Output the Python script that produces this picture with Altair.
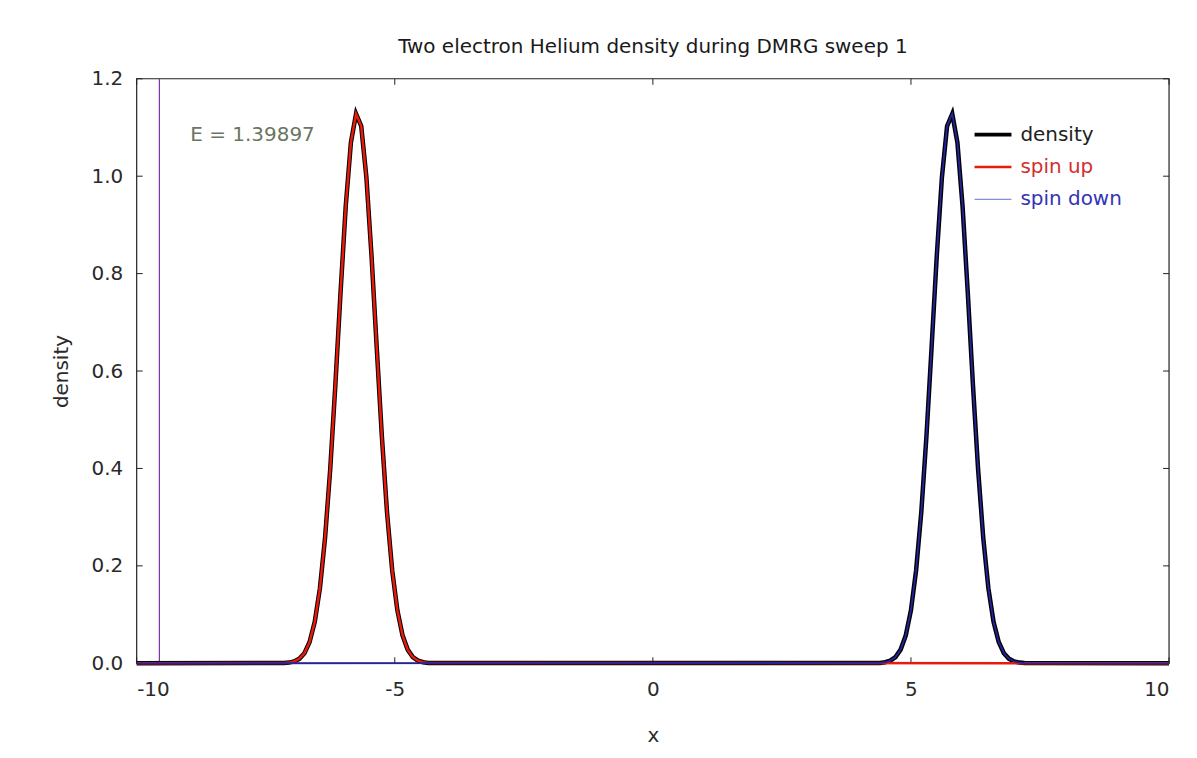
import altair as alt
import pandas as pd

# ---- data ----
x_left = [-7.15, -7.05, -6.95, -6.85, -6.75, -6.65, -6.55, -6.45, -6.35, -6.25, -6.15,
          -6.05, -5.95, -5.85, -5.75, -5.65, -5.55, -5.45, -5.35, -5.25, -5.15, -5.05,
          -4.95, -4.85, -4.75, -4.65, -4.55, -4.45, -4.35]
left_vals = [0.0005, 0.0014, 0.0037, 0.0091, 0.0207, 0.0436, 0.085, 0.154, 0.258, 0.399,
             0.573, 0.762, 0.938, 1.069, 1.128, 1.103, 0.998, 0.836, 0.649, 0.466, 0.310,
             0.191, 0.109, 0.0575, 0.0281, 0.0127, 0.0053, 0.0021, 0.0007]
x_right = [4.4, 4.5, 4.6, 4.7, 4.8, 4.9, 5.0, 5.1, 5.2, 5.3, 5.4, 5.5, 5.6, 5.7, 5.8,
           5.9, 6.0, 6.1, 6.2, 6.3, 6.4, 6.5, 6.6, 6.7, 6.8, 6.9, 7.0, 7.1, 7.2]
right_vals = [0.0007, 0.0021, 0.0053, 0.0127, 0.0281, 0.0575, 0.109, 0.191, 0.310, 0.466,
              0.649, 0.836, 0.998, 1.103, 1.128, 1.069, 0.938, 0.762, 0.573, 0.399, 0.258,
              0.154, 0.085, 0.0436, 0.0207, 0.0091, 0.0037, 0.0014, 0.0005]
x_min, x_max = -10, 10
site_x = [-9.56]
energy_label = ["E = 1.39897"]
label_x = [-8.96]
label_y = [1.085]
x_ticks = [-10, -5, 0, 5, 10]
y_ticks = [0.0, 0.2, 0.4, 0.6, 0.8, 1.0, 1.2]
legend_labels = ["density", "spin up", "spin down"]

# ---- tables ----
dens = pd.DataFrame({"x": [x_min] + x_left + x_right + [x_max],
                     "y": [0.0] + left_vals + right_vals + [0.0]})
up = pd.DataFrame({"x": [x_min] + x_left + [x_max], "y": [0.0] + left_vals + [0.0]})
down = pd.DataFrame({"x": [x_min] + x_right + [x_max], "y": [0.0] + right_vals + [0.0]})
dens["o"] = range(len(dens))
up["o"] = range(len(up))
down["o"] = range(len(down))

W, H = 1035, 586
FONT = "DejaVu Sans"
TXT = "#2a2a2a"
xs = alt.Scale(domain=[x_min, x_max], nice=False, zero=False)
ys = alt.Scale(domain=[0, 1.2], nice=False)

x_axis = alt.Axis(values=x_ticks, labelExpr="datum.value", title="x", tickSize=0,
                  grid=False, domain=False, labelPadding=16, labelFontSize=20,
                  labelColor=TXT, titleFontSize=20, titleFontWeight="normal",
                  titleColor=TXT, titlePadding=26, labelFont=FONT, titleFont=FONT)
y_axis = alt.Axis(values=y_ticks, format=".1f", title="density", tickSize=0,
                  grid=False, domain=False, labelPadding=14, labelFontSize=20,
                  labelColor=TXT, titleFontSize=20, titleFontWeight="normal",
                  titleColor=TXT, titlePadding=20, labelFont=FONT, titleFont=FONT)


def X(field):
    return alt.X(field, scale=xs, axis=x_axis, title="x")


def Y(field):
    return alt.Y(field, scale=ys, axis=y_axis, title="density")


# plot border drawn beneath the curves (gnuplot style)
border = alt.Chart(pd.DataFrame({"b": [1]})).mark_rect(
    fill="white", stroke="#222222", strokeWidth=1.2).encode(
    x=alt.value(0), x2=alt.value(W), y=alt.value(0), y2=alt.value(H))

l_dens = alt.Chart(dens).mark_line(color="#000000", strokeWidth=4.5).encode(
    x=X("x:Q"), y=Y("y:Q"), order="o:Q")
l_up = alt.Chart(up).mark_line(color="#e81a0c", strokeWidth=2.5).encode(
    x=X("x:Q"), y=Y("y:Q"), order="o:Q")
l_down = alt.Chart(down).mark_line(color="#24249c", strokeWidth=1.8).encode(
    x=X("x:Q"), y=Y("y:Q"), order="o:Q")

site = alt.Chart(pd.DataFrame({"x": site_x})).mark_rule(color="#7a34a8", strokeWidth=1.2).encode(
    x=X("x:Q"))

elabel = alt.Chart(pd.DataFrame({"x": label_x, "y": label_y, "t": energy_label})).mark_text(
    align="left", baseline="middle", fontSize=20, font=FONT, color="#6a7560").encode(
    x=X("x:Q"), y=Y("y:Q"), text="t:N")

# inward tick marks on all four sides
ydf = pd.DataFrame({"v": y_ticks})
xdf = pd.DataFrame({"v": x_ticks})
tk = dict(color="#222222", strokeWidth=1)
t_left = alt.Chart(ydf).mark_rule(**tk).encode(
    y=Y("v:Q"), x=alt.value(0), x2=alt.value(6))
t_right = alt.Chart(ydf).mark_rule(**tk).encode(
    y=Y("v:Q"), x=alt.value(W), x2=alt.value(W - 6))
t_bot = alt.Chart(xdf).mark_rule(**tk).encode(
    x=X("v:Q"), y=alt.value(H), y2=alt.value(H - 6))
t_top = alt.Chart(xdf).mark_rule(**tk).encode(
    x=X("v:Q"), y=alt.value(0), y2=alt.value(6))

# legend (gnuplot style, inside top right)
leg_sym_col = ["#000000", "#e81a0c", "#8c8cdc"]
leg_sym_w = [4, 2.5, 1.2]
leg_txt_col = ["#222222", "#d03030", "#3434b4"]
legend_layers = []
for i, lab in enumerate(legend_labels):
    yy = 56 + i * 32.5
    legend_layers.append(
        alt.Chart(pd.DataFrame({"t": [lab]})).mark_rule(
            color=leg_sym_col[i], strokeWidth=leg_sym_w[i]).encode(
            x=alt.value(840), x2=alt.value(877), y=alt.value(yy)))
    legend_layers.append(
        alt.Chart(pd.DataFrame({"t": [lab]})).mark_text(
            align="left", baseline="middle", fontSize=20, font=FONT,
            color=leg_txt_col[i]).encode(
            x=alt.value(886), y=alt.value(yy), text="t:N"))

chart = alt.layer(
    border, t_left, t_right, t_bot, t_top, site, l_dens, l_up, l_down, elabel,
    *legend_layers
).properties(
    width=W, height=H,
    title=alt.Title("Two electron Helium density during DMRG sweep 1", fontSize=20,
                    font=FONT, fontWeight="normal", color="#1a1a1a", offset=12,
                    anchor="middle"),
    autosize=alt.AutoSizeParams(type="none"),
    padding={"left": 129, "top": 70, "right": 20, "bottom": 92},
).configure(font=FONT, background="white").configure_view(strokeWidth=0)

chart.save("out.html", embed_options={"renderer": "svg", "actions": False})
